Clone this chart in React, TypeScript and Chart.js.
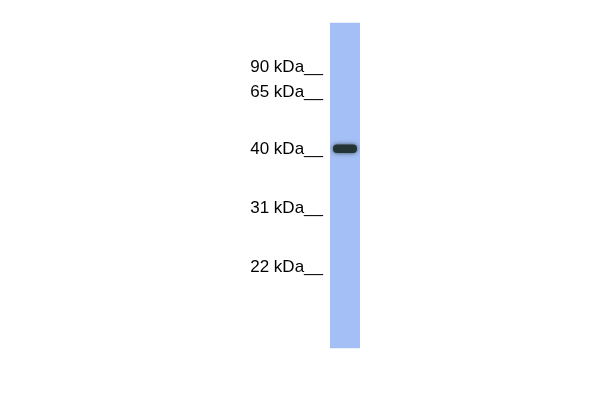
import { useEffect, useRef } from 'react'
import { Chart, registerables } from 'chart.js'

Chart.register(...registerables)

// marker ladder, positions in migration units (top of gel = 0)
const MARKER_LABELS = ['90 kDa', '65 kDa', '40 kDa', '31 kDa', '22 kDa']
const MARKER_POS = [67.5, 92.5, 149.5, 208, 267.5]

const LANES = ['lane 1']
const LANE_SPAN = [[23, 348]]
const BAND_SPAN = [[144.5, 153]]

const bandGlow = {
  id: 'bandGlow',
  beforeDatasetDraw(chart: any, args: any) {
    if (args.index !== 1) return
    const ctx = chart.ctx
    ctx.save()
    ctx.shadowColor = 'rgba(30,45,45,0.8)'
    ctx.shadowBlur = 4
  },
  afterDatasetDraw(chart: any, args: any) {
    if (args.index !== 1) return
    chart.ctx.restore()
  },
}

export default function App() {
  const canvasRef = useRef<HTMLCanvasElement>(null)
  const chartRef = useRef<any>(null)

  useEffect(() => {
    document.body.style.margin = '0'
    if (!canvasRef.current) return
    if (chartRef.current) chartRef.current.destroy()

    chartRef.current = new Chart(canvasRef.current, {
      type: 'bar',
      data: {
        labels: LANES,
        datasets: [
          {
            label: 'Lane',
            data: LANE_SPAN,
            backgroundColor: '#a4bff5',
            barPercentage: 1,
            categoryPercentage: 1,
            grouped: false,
            order: 2,
          },
          {
            label: 'Band',
            data: BAND_SPAN,
            backgroundColor: '#243333',
            borderRadius: 4,
            borderSkipped: false,
            barPercentage: 0.8,
            categoryPercentage: 1,
            grouped: false,
            order: 1,
          },
        ],
      },
      options: {
        responsive: false,
        animation: false,
        layout: { autoPadding: false, padding: { left: 240, right: 240, top: 0, bottom: 0 } },
        plugins: { legend: { display: false }, tooltip: { enabled: false } },
        scales: {
          x: { display: false },
          y: {
            min: 0,
            max: 400,
            reverse: true,
            border: { display: false },
            grid: { display: false, drawTicks: false },
            afterFit: (scale: any) => {
              scale.width = 90
              // no label overhang padding, so the gel spans the full canvas height
              scale.paddingTop = 0
              scale.paddingBottom = 0
            },
            afterBuildTicks: (scale: any) => { scale.ticks = MARKER_POS.map(v => ({ value: v })) },
            ticks: {
              padding: 7,
              color: '#000',
              font: { family: "'Liberation Sans', Arial, sans-serif", size: 17 },
              callback: (_v: any, i: number) => `${MARKER_LABELS[i]}__`,
            },
          },
        },
      },
      plugins: [bandGlow],
    })

    return () => { if (chartRef.current) chartRef.current.destroy() }
  }, [])

  return <canvas ref={canvasRef} width={600} height={400} style={{ display: 'block' }} />
}
